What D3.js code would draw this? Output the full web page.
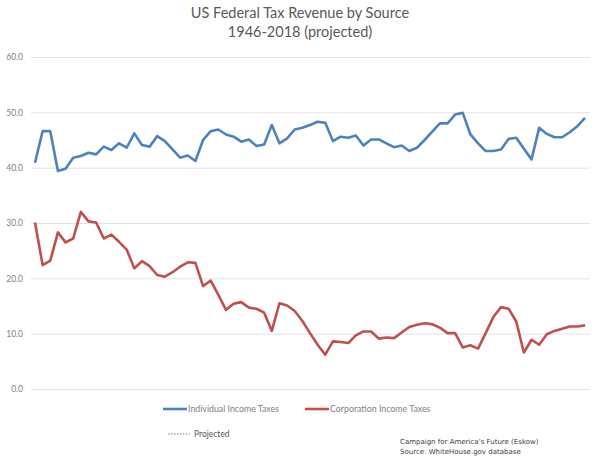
<!DOCTYPE html>
<html>
<head>
<meta charset="utf-8">
<script src="https://cdn.jsdelivr.net/npm/d3@7"></script>
<style>
  body { margin: 0; background: #fff; }
  svg { display: block; }
</style>
</head>
<body>
<svg id="viz" width="600" height="469"></svg>
<script>
const viz = d3.select("#viz");
const width = 600;
const height = 469;

// years 1946 - 2018, share of federal revenue (%)
const years = d3.range(1946, 2019);
const individual = [
  40.9, 46.6, 46.6, 39.4, 39.8, 41.8, 42.1, 42.7, 42.4, 43.8,
  43.2, 44.4, 43.6, 46.2, 44.1, 43.8, 45.7, 44.8, 43.3, 41.8,
  42.2, 41.2, 45.0, 46.6, 46.9, 46.0, 45.6, 44.7, 45.1, 43.9,
  44.2, 47.7, 44.4, 45.3, 46.9, 47.2, 47.7, 48.3, 48.1, 44.8,
  45.6, 45.4, 45.8, 44.0, 45.1, 45.1, 44.4, 43.7, 44.0, 43.0,
  43.6, 45.0, 46.5, 48.0, 48.0, 49.6, 49.9, 46.0, 44.4, 43.0,
  43.0, 43.3, 45.2, 45.4, 43.4, 41.5, 47.2, 46.1, 45.5, 45.5,
  46.4, 47.5, 49.0
];
const corporation = [
  30.1, 22.4, 23.2, 28.3, 26.5, 27.2, 32.0, 30.3, 30.1, 27.2,
  27.9, 26.6, 25.2, 21.8, 23.1, 22.2, 20.6, 20.3, 21.1, 22.1,
  22.9, 22.8, 18.6, 19.6, 17.0, 14.3, 15.4, 15.7, 14.7, 14.5,
  13.8, 10.5, 15.5, 15.1, 14.1, 12.3, 10.1, 8.0, 6.2, 8.6,
  8.5, 8.3, 9.7, 10.4, 10.4, 9.1, 9.3, 9.2, 10.2, 11.2,
  11.6, 11.9, 11.7, 11.1, 10.1, 10.1, 7.5, 7.9, 7.3, 10.1,
  13.0, 14.8, 14.5, 12.2, 6.6, 8.9, 8.0, 9.9, 10.5, 10.9,
  11.3, 11.3, 11.5
];
const yTicks = [0, 10, 20, 30, 40, 50, 60];
const titleLines = ["US Federal Tax Revenue by Source", "1946-2018 (projected)"];
const seriesNames = ["Individual Income Taxes", "Corporation Income Taxes"];
const seriesColors = ["#4f81bd", "#c0504d"];
const credits = ["Campaign for America\u2019s Future (Eskow)", "Source: WhiteHouse.gov database"];

const x = d3.scaleLinear().domain([1946, 2018]).range([35, 585]);
const y = d3.scaleLinear().domain([0, 60]).range([389, 57]);

// title
viz.append("g").selectAll("text")
  .data(titleLines)
  .join("text")
  .attr("x", 300)
  .attr("y", (d, i) => 18 + i * 19)
  .attr("text-anchor", "middle")
  .attr("font-family", "Lato, sans-serif")
  .attr("font-size", 14.5)
  .attr("fill", "#595959")
  .text(d => d);

// gridlines + y labels
const yAxis = d3.axisLeft(y)
  .tickValues(yTicks)
  .tickSize(-(590 - 31))
  .tickPadding(8)
  .tickFormat(d3.format(".1f"));

const gy = viz.append("g")
  .attr("transform", "translate(31,0)")
  .call(yAxis);
gy.select(".domain").remove();
gy.selectAll(".tick line").attr("stroke", "#e3e3e3").attr("stroke-width", 1);
gy.selectAll(".tick text")
  .attr("font-family", "Lato, sans-serif")
  .attr("font-size", 8.5)
  .attr("fill", "#7f7f7f");

// lines
const line = d3.line()
  .x((d, i) => x(years[i]))
  .y(d => y(d));

viz.append("g").selectAll("path")
  .data([individual, corporation])
  .join("path")
  .attr("d", line)
  .attr("fill", "none")
  .attr("stroke", (d, i) => seriesColors[i])
  .attr("stroke-width", 2.6)
  .attr("stroke-linejoin", "round");

// legend
const legendX = [163, 305];
const lg = viz.append("g").selectAll("g")
  .data(seriesNames)
  .join("g")
  .attr("transform", (d, i) => `translate(${legendX[i]},409)`);
lg.append("line")
  .attr("x1", 0).attr("x2", 24)
  .attr("stroke", (d, i) => seriesColors[i])
  .attr("stroke-width", 2.6);
lg.append("text")
  .attr("x", 25)
  .attr("dy", "0.35em")
  .attr("font-family", "Lato, sans-serif")
  .attr("font-size", 8.8)
  .attr("fill", "#7f7f7f")
  .text(d => d);

const proj = viz.append("g").attr("transform", "translate(168,434)");
proj.append("line")
  .attr("x1", 0).attr("x2", 22)
  .attr("stroke", "#7f7f7f")
  .attr("stroke-width", 1)
  .attr("stroke-dasharray", "1.5,1.5");
proj.append("text")
  .attr("x", 26)
  .attr("dy", "0.35em")
  .attr("font-family", "Lato, sans-serif")
  .attr("font-size", 8.5)
  .attr("fill", "#595959")
  .text("Projected");

// credits
viz.append("g").selectAll("text")
  .data(credits)
  .join("text")
  .attr("x", 400)
  .attr("y", (d, i) => 444 + i * 9.5)
  .attr("font-family", "DejaVu Sans, sans-serif")
  .attr("font-size", 7)
  .attr("fill", "#404040")
  .text(d => d);
</script>
</body>
</html>
